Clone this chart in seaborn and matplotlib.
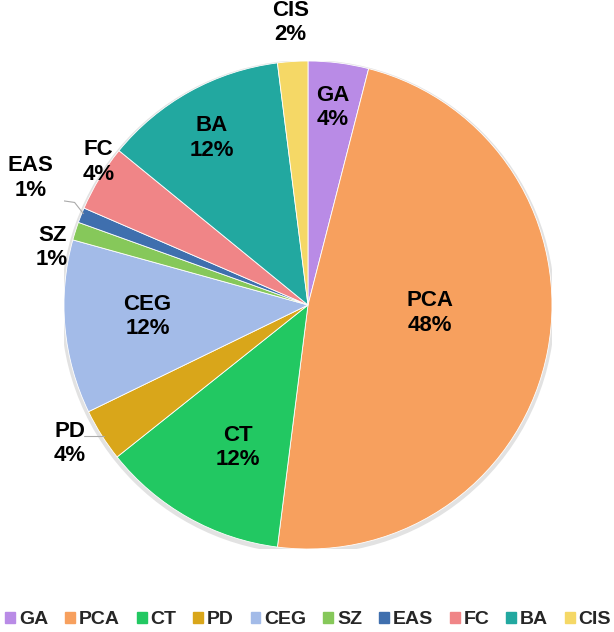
import numpy as np
import matplotlib
matplotlib.use("Agg")
import matplotlib.pyplot as plt
import seaborn as sns

# Data (share of each category, %)
categories = ["GA", "PCA", "CT", "PD", "CEG", "SZ", "EAS", "FC", "BA", "CIS"]
shares = [4.0, 48.0, 12.3, 3.5, 11.5, 1.2, 1.0, 4.4, 12.1, 2.0]
colors = ["#b98be6", "#f7a05e", "#22c862", "#d9a61a", "#a3bbe8",
          "#86c85a", "#3f6fae", "#f08587", "#22a8a0", "#f5d866"]

# Label placement (fraction of radius, angle nudge in degrees)
label_r = [0.815, 0.5, 0.65, 1.13, 0.66, 1.075, 1.25, 1.04, 0.79, 1.16]
label_nudge = [0, 7, 3, -2, -1, 5, -3, -3, 1, 0]

sns.set_theme(style="white")
plt.rcParams["font.family"] = ["Liberation Sans", "DejaVu Sans"]

fig = plt.figure(figsize=(6.14, 6.32), dpi=100)
ax = fig.add_axes([0.1042, 0.1313, 0.7948, 0.7722])

# soft shadow behind the pie
ax.add_patch(plt.Circle((0.0, -0.008), 1.012, color="#e2e2e2", zorder=0, lw=0))

wedges, _ = ax.pie(shares, colors=colors, startangle=90, counterclock=False,
                   radius=1.0, wedgeprops=dict(edgecolor="#ffffff", linewidth=0.6))

for w, cat, val, r, nd in zip(wedges, categories, shares, label_r, label_nudge):
    mid = np.deg2rad((w.theta1 + w.theta2) / 2 + nd)
    x, y = r * np.cos(mid), r * np.sin(mid)
    ax.text(x, y, f"{cat}\n{val:.0f}%", ha="center", va="center",
            fontsize=16, fontweight="bold", color="black", linespacing=1.2)
    m0 = np.deg2rad((w.theta1 + w.theta2) / 2)
    ex, ey = 0.99 * np.cos(m0), 0.99 * np.sin(m0)
    if cat == "PD":
        ax.plot([x + 0.06, ex], [ey - 0.01, ey - 0.01], color="#aaaaaa", lw=0.8)
    if cat == "EAS":
        ax.plot([x + 0.11, x + 0.18, ex], [y - 0.09, y - 0.10, ey + 0.01],
                color="#aaaaaa", lw=0.8)

ax.set_xlim(-1, 1)
ax.set_ylim(-1, 1)
ax.set_aspect("equal")
ax.axis("off")

handles = [plt.Rectangle((0, 0), 1, 1, color=c) for c in colors]
leg = fig.legend(handles, categories, loc="center", bbox_to_anchor=(0.502, 0.019),
                 ncol=10, frameon=False, handlelength=0.5, handleheight=0.5,
                 handletextpad=0.2, columnspacing=0.87, borderaxespad=0,
                 borderpad=0.1, prop=dict(weight="bold", size=14))

fig.savefig("out.png", dpi=100)
